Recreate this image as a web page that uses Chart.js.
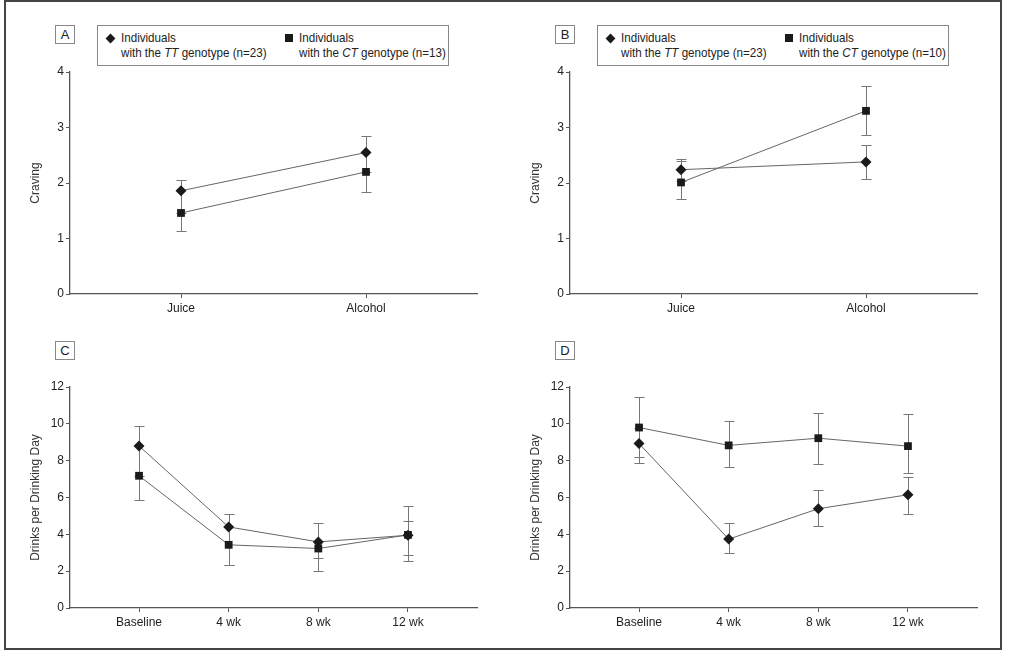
<!DOCTYPE html>
<html>
<head>
<meta charset="utf-8">
<script src="https://cdn.jsdelivr.net/npm/chart.js@4"></script>
<style>
    body { margin: 0; background: #fff; width: 1010px; height: 662px; position: relative; overflow: hidden;
           font-family: 'Liberation Sans', Arial, sans-serif; color: #222; }
    #frame { position: absolute; left: 4px; top: 0; width: 994px; height: 646px; border: 2px solid #444; }
    .panel { position: absolute; }
    .tag { position: absolute; width: 18px; height: 17px; border: 1px solid #888; font-size: 13px;
           line-height: 17px; text-align: center; }
    .legend { position: absolute; width: 350px; height: 39px; border: 1px solid #888; font-size: 13.5px; }
    .entry { position: absolute; top: 4px; line-height: 15px; }
    .txt { display: inline-block; white-space: nowrap; transform: scaleX(0.86); transform-origin: left top; }
    .mark { position: absolute; background: #1a1a1a; }
    .diamond { width: 7px; height: 7px; transform: rotate(45deg); left: -14px; top: 5px; }
    .square { width: 8px; height: 8px; left: -14px; top: 4px; }
    i { font-style: italic; }
</style>
</head>
<body>
<div id="frame"></div>

<div class="tag" style="left:55px;top:25px">A</div>
<div class="tag" style="left:555px;top:25px">B</div>
<div class="tag" style="left:55px;top:341px">C</div>
<div class="tag" style="left:555px;top:341px">D</div>

<div class="legend" style="left:97px;top:25px">
    <div class="entry" style="left:23px"><span class="mark diamond"></span><span class="txt">Individuals<br>with the <i>TT</i> genotype (n=23)</span></div>
    <div class="entry" style="left:201px"><span class="mark square"></span><span class="txt">Individuals<br>with the <i>CT</i> genotype (n=13)</span></div>
</div>
<div class="legend" style="left:597px;top:25px">
    <div class="entry" style="left:23px"><span class="mark diamond"></span><span class="txt">Individuals<br>with the <i>TT</i> genotype (n=23)</span></div>
    <div class="entry" style="left:201px"><span class="mark square"></span><span class="txt">Individuals<br>with the <i>CT</i> genotype (n=10)</span></div>
</div>

<div class="panel" style="left:20px;top:60px"><canvas id="chartA" width="470" height="260"></canvas></div>
<div class="panel" style="left:520px;top:60px"><canvas id="chartB" width="470" height="260"></canvas></div>
<div class="panel" style="left:20px;top:375px"><canvas id="chartC" width="470" height="259"></canvas></div>
<div class="panel" style="left:520px;top:375px"><canvas id="chartD" width="470" height="259"></canvas></div>

<script>
// Categories
const craveCats = ['Juice', 'Alcohol'];
const weekCats = ['Baseline', '4 wk', '8 wk', '12 wk'];

// Panel A - craving, TT vs CT (n=13)
const aTT = [1.86, 2.55];
const aTTHi = [2.05, 2.85];
const aTTLo = [1.46, 2.20];
const aCT = [1.46, 2.20];
const aCTHi = [null, null];
const aCTLo = [1.14, 1.83];

// Panel B - craving, TT vs CT (n=10)
const bTT = [2.24, 2.38];
const bTTHi = [2.44, 2.68];
const bTTLo = [2.04, 2.08];
const bCT = [2.01, 3.30];
const bCTHi = [2.40, 3.74];
const bCTLo = [1.71, 2.87];

// Panel C - drinks per drinking day
const cTT = [8.80, 4.40, 3.59, 3.95];
const cTTHi = [9.87, 5.10, 4.60, 4.73];
const cTTLo = [7.18, 2.36, 2.70, 2.87];
const cCT = [7.18, 3.43, 3.23, 3.97];
const cCTHi = [null, null, null, 5.55];
const cCTLo = [5.86, 2.33, 2.00, 2.54];

// Panel D - drinks per drinking day
const dTT = [8.93, 3.74, 5.39, 6.15];
const dTTHi = [9.80, 4.64, 6.41, 7.09];
const dTTLo = [7.87, 2.98, 4.46, 5.10];
const dCT = [9.80, 8.83, 9.22, 8.79];
const dCTHi = [11.46, 10.14, 10.61, 10.52];
const dCTLo = [8.18, 7.63, 7.81, 7.34];

Chart.defaults.font.family = "'Liberation Sans', Arial, sans-serif";
Chart.defaults.font.size = 12;
Chart.defaults.color = '#222';

// Error bars drawn under the markers, positioned through the chart scales
const errorBars = {
    id: 'errorBars',
    beforeDatasetsDraw(chart) {
        const ctx = chart.ctx;
        const xs = chart.scales.x;
        const ys = chart.scales.y;
        ctx.save();
        ctx.strokeStyle = '#777';
        ctx.lineWidth = 1;
        chart.data.datasets.forEach(ds => {
            ds.data.forEach((pt, i) => {
                const px = Math.round(xs.getPixelForValue(pt.x)) + 0.5;
                const py = ys.getPixelForValue(pt.y);
                [ds.errHi[i], ds.errLo[i]].forEach(v => {
                    if (v === null) return;
                    const ey = Math.round(ys.getPixelForValue(v)) + 0.5;
                    ctx.beginPath();
                    ctx.moveTo(px, py);
                    ctx.lineTo(px, ey);
                    ctx.moveTo(px - 5, ey);
                    ctx.lineTo(px + 5, ey);
                    ctx.stroke();
                });
            });
        });
        ctx.restore();
    }
};

function series(values, hi, lo, shape, radius) {
    return {
        data: values.map((v, i) => ({ x: i, y: v })),
        errHi: hi,
        errLo: lo,
        borderColor: '#666',
        borderWidth: 1,
        backgroundColor: '#1a1a1a',
        pointBackgroundColor: '#1a1a1a',
        pointBorderWidth: 0,
        pointStyle: shape,
        pointRadius: radius,
        tension: 0
    };
}

function makeChart(id, cats, xMin, xMax, yMax, step, yTitle, datasets) {
    new Chart(document.getElementById(id), {
        type: 'line',
        data: { datasets: datasets },
        plugins: [errorBars],
        options: {
            responsive: false,
            animation: false,
            layout: { padding: { top: 12, right: 13, left: 0, bottom: 0 } },
            plugins: { legend: { display: false }, tooltip: { enabled: false } },
            scales: {
                x: {
                    type: 'linear',
                    min: xMin,
                    max: xMax,
                    afterBuildTicks: (scale) => { scale.ticks = cats.map((c, i) => ({ value: i })); },
                    afterFit: (scale) => { scale.height = 26; },
                    ticks: { callback: (v) => cats[v], padding: 3, maxRotation: 0, autoSkip: false },
                    grid: { drawOnChartArea: false, tickLength: 4, color: '#555' },
                    border: { color: '#555', width: 1.3 }
                },
                y: {
                    min: 0,
                    max: yMax,
                    ticks: { stepSize: step, padding: 2 },
                    afterFit: (scale) => { scale.width = 50; },
                    grid: { drawOnChartArea: false, tickLength: 4, color: '#555' },
                    border: { color: '#555', width: 1.3 },
                    title: { display: true, text: yTitle, color: '#333', padding: { top: 8, bottom: 0 } }
                }
            }
        }
    });
}

makeChart('chartA', craveCats, -0.6, 1.6, 4, 1, 'Craving', [
    series(aTT, aTTHi, aTTLo, 'rectRot', 5.5),
    series(aCT, aCTHi, aCTLo, 'rect', 5.5)
]);
makeChart('chartB', craveCats, -0.6, 1.6, 4, 1, 'Craving', [
    series(bTT, bTTHi, bTTLo, 'rectRot', 5.5),
    series(bCT, bCTHi, bCTLo, 'rect', 5.5)
]);
makeChart('chartC', weekCats, -0.77, 3.77, 12, 2, 'Drinks per Drinking Day', [
    series(cTT, cTTHi, cTTLo, 'rectRot', 5.5),
    series(cCT, cCTHi, cCTLo, 'rect', 5.5)
]);
makeChart('chartD', weekCats, -0.77, 3.77, 12, 2, 'Drinks per Drinking Day', [
    series(dTT, dTTHi, dTTLo, 'rectRot', 5.5),
    series(dCT, dCTHi, dCTLo, 'rect', 5.5)
]);
</script>
</body>
</html>
